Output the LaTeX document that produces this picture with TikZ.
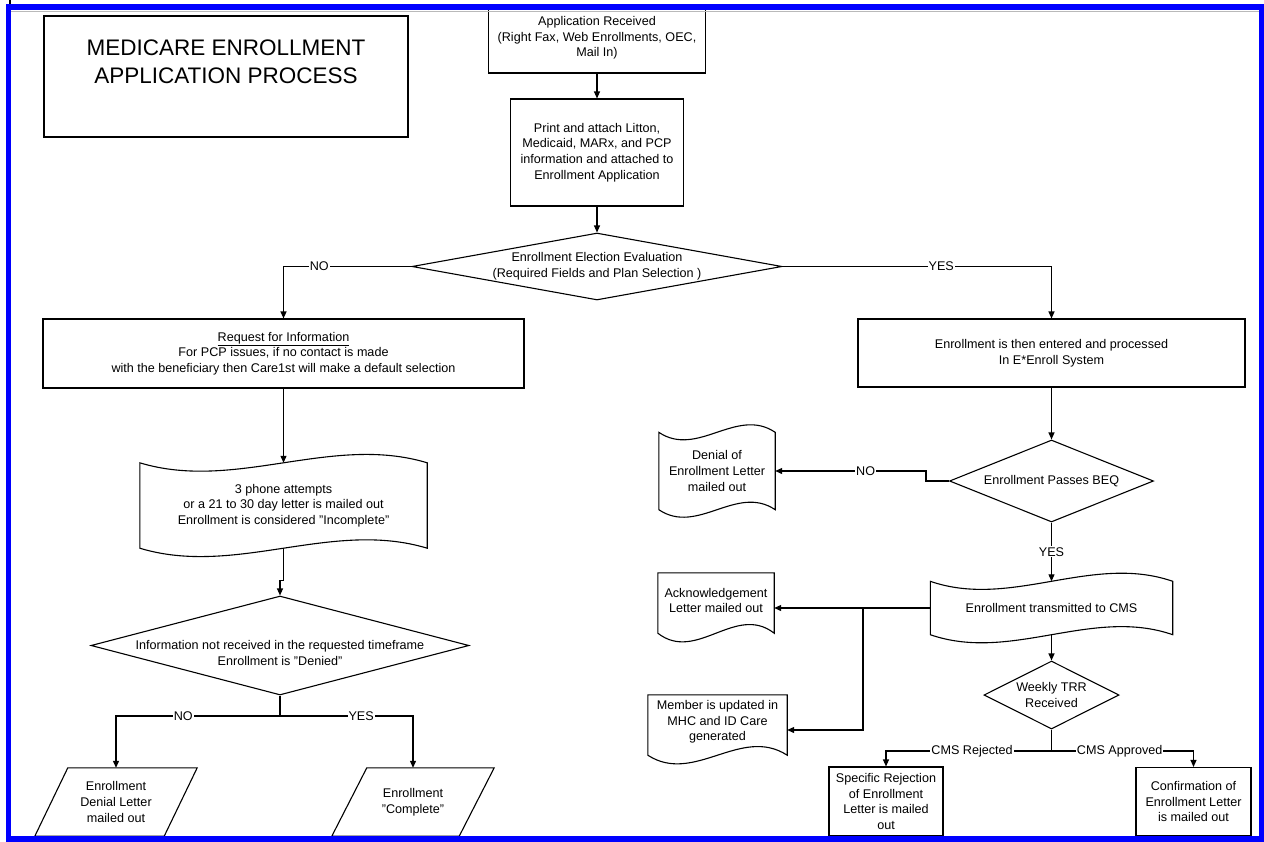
\documentclass[tikz,border=0pt]{standalone}
\usepackage{fontspec}
\setmainfont{Liberation Sans}
\usetikzlibrary{arrows.meta,shapes.geometric,calc}
\newcommand\wavetape[3]{\draw[con] (#1.north west) .. controls +(#2,#3) and +(-#2,-#3) .. (#1.north east) -- (#1.south east) .. controls +(-#2,-#3) and +(#2,#3) .. (#1.south west) -- cycle;}
\newcommand\wavedoc[4]{\draw[con] (#1.north west) -- (#1.north east) -- ($(#1.south east)+(0,#4)$) .. controls +(-#2,-#3) and +(#2,#3) .. ($(#1.south west)+(0,#4)$) -- cycle;}
\begin{document}
\begin{tikzpicture}[x=1pt,y=-1pt,
  every node/.style={font=\fontsize{12.6}{15.6}\selectfont, align=center, inner sep=0pt},
  con/.style={line width=1.1pt, draw=black},
  box/.style={draw, line width=1.1pt, inner sep=0pt},
  dia/.style={diamond, draw, line width=1.1pt, inner sep=0pt},
  arr/.style={line width=1.1pt, -{Triangle[length=7pt,width=6pt]}},
  lab/.style={fill=white, inner sep=1pt}]
\useasboundingbox (0,0) rectangle (1264,841);
\fill[white] (0,0) rectangle (1264,841);

% title
\node[box, minimum width=364, minimum height=121] (titlebox) at (226,76.5) {};
\node[font=\fontsize{22.5}{28}\selectfont] (titletext) at (226,62) {MEDICARE ENROLLMENT\\APPLICATION PROCESS};

% main column
\node[box, minimum width=217, minimum height=67] (app) at (597,39.5) {};
\node (apptext) at (597,38) {Application Received\\(Right Fax, Web Enrollments, OEC,\\Mail In)};
\node[box, minimum width=173, minimum height=107] (print) at (597,152.5) {Print and attach Litton,\\Medicaid, MARx, and PCP\\information and attached to\\Enrollment Application};
\node[dia, minimum width=370, minimum height=67, label={center:{Enrollment Election Evaluation\\(Required Fields and Plan Selection )}}] (eval) at (597,266.5) {};

% left branch
\node[box, minimum width=481, minimum height=69] (rfi) at (283.5,353.5) {\underline{Request for Information}\\For PCP issues, if no contact is made\\with the beneficiary then Care1st will make a default selection};
\node[minimum width=287, minimum height=85] (phone) at (283.5,505.5) {3 phone attempts\\or a 21 to 30 day letter is mailed out\\Enrollment is considered "Incomplete"};
\wavetape{phone}{95.7}{29}
\node[dia, minimum width=378, minimum height=99, label={[yshift=-7.5pt]center:{Information not received in the requested timeframe\\Enrollment is "Denied"}}] (deny) at (280,645.5) {};
\coordinate (j3) at (280,716);
\node[minimum width=129, minimum height=68] (p1) at (116,802) {Enrollment\\Denial Letter\\mailed out};
\draw[con] ($(p1.north west)+(16.5,0)$) -- ($(p1.north east)+(16.5,0)$) -- ($(p1.south east)+(-16.5,0)$) -- ($(p1.south west)+(-16.5,0)$) -- cycle;
\node[minimum width=127, minimum height=68] (p2) at (413,802) {Enrollment\\"Complete"};
\draw[con] ($(p2.north west)+(17.5,0)$) -- ($(p2.north east)+(17.5,0)$) -- ($(p2.south east)+(-17.5,0)$) -- ($(p2.south west)+(-17.5,0)$) -- cycle;

% right branch
\node[box, minimum width=387, minimum height=68] (enter) at (1051.5,353) {Enrollment is then entered and processed\\In E*Enroll System};
\node[dia, minimum width=204, minimum height=82, label={center:Enrollment Passes BEQ}] (beq) at (1051.5,481) {};
\node[minimum width=116, minimum height=77] (denial) at (717,471) {Denial of\\Enrollment Letter\\mailed out};
\wavetape{denial}{38.7}{26}
\node[minimum width=242, minimum height=53] (cms) at (1051.5,608) {Enrollment transmitted to CMS};
\wavetape{cms}{80.7}{28}
\node[minimum width=116, minimum height=55] (ack) at (716,600.5) {Acknowledgement\\Letter mailed out};
\wavedoc{ack}{38.7}{30}{5}
\node[minimum width=139, minimum height=54] (member) at (717.5,722) {Member is updated in\\MHC and ID Care\\generated};
\wavedoc{member}{46.3}{30}{6}
\coordinate (j1) at (863,608);
\node[dia, minimum width=135, minimum height=68, label={center:{Weekly TRR\\Received}}] (trr) at (1051.5,695) {};
\coordinate (j2) at (1051.5,751);
\node[box, minimum width=114, minimum height=69] (rej) at (886,801.5) {Specific Rejection\\of Enrollment\\Letter is mailed\\out};
\node[box, minimum width=115, minimum height=68] (conf) at (1193.5,801.5) {Confirmation of\\Enrollment Letter\\is mailed out};

% connectors
\draw[arr] (app) -- (print);
\draw[arr] (print) -- (eval);
\draw[arr] (eval.west) -| node[lab,pos=0.36]{NO} (rfi.north);
\draw[arr] (eval.east) -| node[lab,pos=0.295]{YES} (enter.north);
\draw[arr] (rfi.south) -- (phone.north);
\draw[arr] (phone.south) -- ++(0,32) -| (deny.north);
\draw[con] (deny.south) -- (j3);
\draw[arr] (j3) -| node[lab,pos=0.295]{NO} (p1.north);
\draw[arr] (j3) -| node[lab,pos=0.305]{YES} (p2.north);
\draw[arr] (enter) -- (beq);
\draw[arr] (beq.west) -- ++(-23,0) |- node[lab,pos=0.7]{NO} (denial.east);
\draw[arr] (beq.south) -- node[lab]{YES} (cms.north);
\draw[arr] (cms.west) -- (cms.west -| ack.east);
\draw[arr] (j1) |- ([yshift=-8pt]member.east);
\draw[arr] (cms.south) -- (trr.north);
\draw[con] (trr.south) -- (j2);
\draw[arr] (j2) -| node[lab,pos=0.24]{CMS Rejected} (rej.north);
\draw[arr] (j2) -| node[lab,pos=0.24]{CMS Approved} (conf.north);

% frame
\draw[gray!55, line width=1.5pt] (11,11.5) -- (1259,11.5);
\draw[blue, line width=5.5pt] (8.5,7) rectangle (1261.5,839);
\fill[black] (9,0) rectangle (10.5,4);
\end{tikzpicture}
\end{document}
